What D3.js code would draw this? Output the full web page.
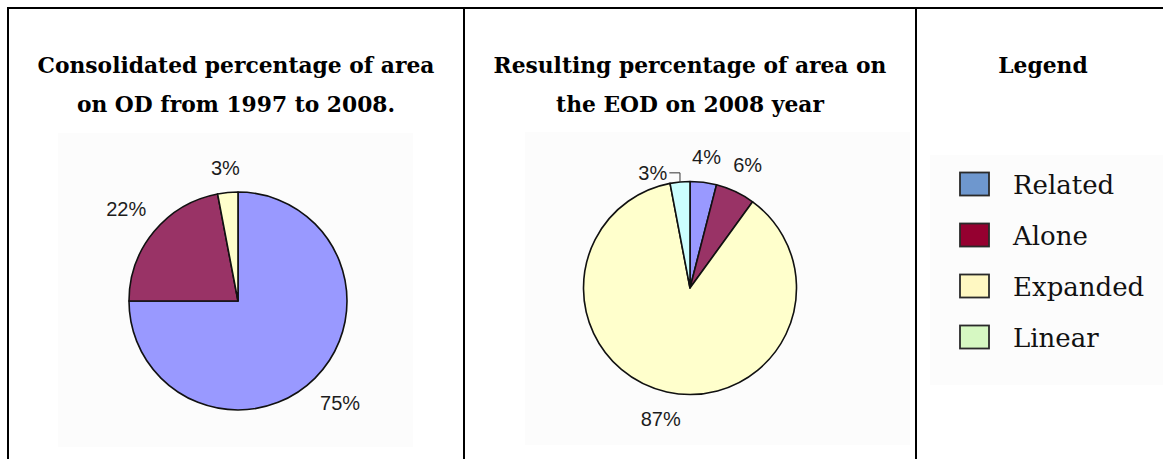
<!DOCTYPE html>
<html>
<head>
<meta charset="utf-8">
<script src="https://cdn.jsdelivr.net/npm/d3@7"></script>
<style>
  html, body { margin: 0; padding: 0; background: #ffffff; }
  svg { display: block; }
</style>
</head>
<body>
<svg id="chart" width="1163" height="459"></svg>
<script>
// Area categories shared by both pies and the legend
const categories = ["Related", "Alone", "Expanded", "Linear"];

// Consolidated percentage of area on OD, 1997–2008
const odShares = [75, 22, 3, 0];
// Resulting percentage of area on the EOD, 2008
const eodShares = [4, 6, 87, 3];

const titleOD = ["Consolidated percentage of area", "on OD from 1997 to 2008."];
const titleEOD = ["Resulting percentage of area on", "the EOD on 2008 year"];
const legendTitle = "Legend";

// Slice fills (pie palette) and legend swatch fills
const pieColors = ["#9999FF", "#993366", "#FFFFCC", "#CCFFFF"];
const swatchColors = ["#6E97CE", "#950030", "#FFF8C2", "#D6F8C2"];

const svg = d3.select("#chart");
const W = 1163, H = 459;

// ---- frame ----
const frame = svg.append("g").attr("stroke", "#000").attr("stroke-width", 2);
frame.append("line").attr("x1", 7).attr("x2", W).attr("y1", 8).attr("y2", 8);
[8, 464, 916].forEach(x =>
  frame.append("line").attr("x1", x).attr("x2", x).attr("y1", 7).attr("y2", H));

// ---- titles ----
function drawTitle(lines, cx) {
  svg.append("g").selectAll("text").data(lines).join("text")
    .attr("x", cx)
    .attr("y", (d, i) => 73 + i * 39)
    .attr("text-anchor", "middle")
    .attr("font-family", "'DejaVu Serif', serif")
    .attr("font-weight", "bold")
    .attr("font-size", 21.8)
    .attr("fill", "#000")
    .text(d => d);
}
drawTitle(titleOD, 236);
drawTitle(titleEOD, 690);
drawTitle([legendTitle], 1043);

// ---- pies ----
const pie = d3.pie().sort(null).value(d => d.value).startAngle(0).endAngle(2 * Math.PI);

function drawPie(values, opts) {
  const { cx, cy, r, bg } = opts;
  svg.append("rect")
    .attr("x", bg[0]).attr("y", bg[1]).attr("width", bg[2]).attr("height", bg[3])
    .attr("fill", "#fcfcfc");

  const data = categories.map((c, i) => ({ cat: c, value: values[i], color: pieColors[i] }))
    .filter(d => d.value > 0);
  const arcs = pie(data);
  const arc = d3.arc().innerRadius(0).outerRadius(r);

  const g = svg.append("g").attr("transform", `translate(${cx},${cy})`);
  g.selectAll("path").data(arcs).join("path")
    .attr("d", arc)
    .attr("fill", d => d.data.color)
    .attr("stroke", "#111")
    .attr("stroke-width", 1.6)
    .attr("stroke-linejoin", "round");

  // data labels placed just outside the rim, boxed along the mid-angle
  const gap = 15.5, halfH = 8, crowd = 36, minSep = 55;
  const labels = g.selectAll("text.lbl").data(arcs).join("text")
    .attr("class", "lbl")
    .attr("font-family", "'Liberation Sans', Arial, sans-serif")
    .attr("font-size", 20)
    .attr("fill", "#1c1c1c")
    .attr("text-anchor", "middle")
    .attr("dominant-baseline", "central")
    .text(d => d.data.value + "%");

  const pos = [];
  labels.each(function (d) {
    const w = this.getBBox().width;
    const a = (d.startAngle + d.endAngle) / 2;
    const sx = Math.sin(a), sy = -Math.cos(a);
    const rr = r + gap + (w / 2) * Math.abs(sx) + halfH * Math.abs(sy);
    pos.push({ a, x: rr * sx, y: rr * sy, w, moved: false });
  });

  // a label crowding its clockwise neighbour slides counter-clockwise against the rim
  pos.forEach((p, i) => {
    const n = pos[(i + 1) % pos.length];
    if (n === p) return;
    if (Math.hypot(p.x - n.x, p.y - n.y) < crowd && !n.moved) {
      const rr = r + 14.5;
      let a = p.a;
      let x = rr * Math.sin(a), y = -rr * Math.cos(a);
      while (Math.hypot(x - n.x, y - n.y) < minSep) {
        a -= Math.PI / 360;
        x = rr * Math.sin(a); y = -rr * Math.cos(a);
      }
      p.x = x; p.y = y; p.moved = true;
      // elbow leader from the label to the slice rim
      const ex = r * Math.sin(p.a), ey = -r * Math.cos(p.a);
      g.append("path")
        .attr("d", `M${x + p.w / 2 + 2},${y}H${ex}V${ey}`)
        .attr("fill", "none")
        .attr("stroke", "#333")
        .attr("stroke-width", 1);
    }
  });

  labels.attr("x", (d, i) => pos[i].x).attr("y", (d, i) => pos[i].y);
}

drawPie(odShares, { cx: 238, cy: 301, r: 109, bg: [58, 133, 355, 314] });
drawPie(eodShares, { cx: 690, cy: 288, r: 106.5, bg: [525, 132, 385, 313] });

// ---- legend ----
svg.append("rect").attr("x", 930).attr("y", 155).attr("width", W - 930).attr("height", 230)
  .attr("fill", "#fcfcfc");

const rowY = d3.scalePoint().domain(categories).range([184, 337]);
const legend = svg.append("g").selectAll("g").data(categories).join("g")
  .attr("transform", d => `translate(0,${rowY(d)})`);
legend.append("rect")
  .attr("x", 960).attr("y", -11.5).attr("width", 29).attr("height", 23)
  .attr("fill", (d, i) => swatchColors[i])
  .attr("stroke", "#2a2a2a").attr("stroke-width", 1.8);
legend.append("text")
  .attr("x", 1013).attr("y", 10)
  .attr("font-family", "'DejaVu Serif', serif")
  .attr("font-size", 26)
  .attr("fill", "#111")
  .text(d => d);
</script>
</body>
</html>
